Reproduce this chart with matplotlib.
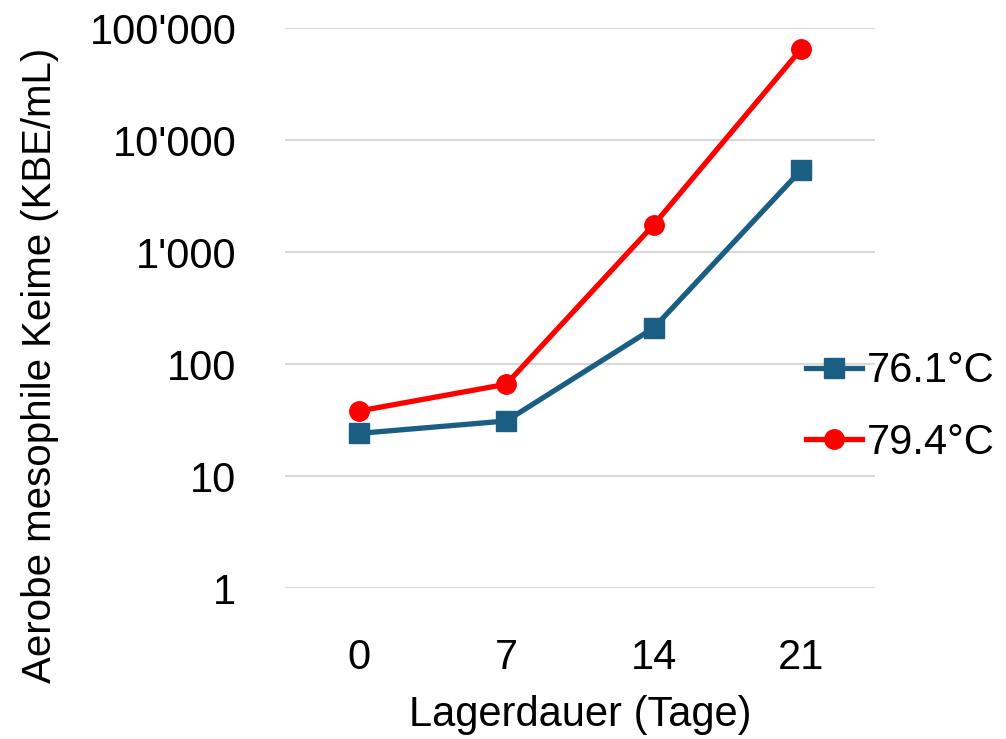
import matplotlib
matplotlib.use("Agg")
import matplotlib.pyplot as plt
from matplotlib.ticker import FuncFormatter, FixedLocator, NullLocator

plt.rcParams['font.family'] = ['Liberation Sans Narrow', 'Liberation Sans', 'DejaVu Sans']

# Daten
tage = ['0', '7', '14', '21']
keime_761 = [24, 31, 210, 5400]
keime_794 = [38, 66, 1750, 65000]
serien = ['76.1°C', '79.4°C']

fig = plt.figure(figsize=(10.06, 7.39), dpi=100)
ax = fig.add_axes([285 / 1006, (739 - 588) / 739, 590 / 1006, 560 / 739])

x = range(len(tage))
ax.plot(x, keime_761, color='#1B5E84', lw=3.8, marker='s', ms=14, label=serien[0])
ax.plot(x, keime_794, color='#FF0000', lw=3.8, marker='o', ms=14, label=serien[1])

ax.set_yscale('log')
ax.set_ylim(1, 1e5)
ax.set_xlim(-0.5, 3.5)
ax.yaxis.set_major_locator(FixedLocator([1, 10, 100, 1000, 10000, 100000]))
ax.yaxis.set_minor_locator(NullLocator())
ax.yaxis.set_major_formatter(FuncFormatter(lambda v, p: f"{int(round(v)):,}".replace(',', "'")))
ax.set_xticks(list(x))
ax.set_xticklabels(tage)

ax.grid(axis='y', color='#D9D9D9', lw=1.5)
ax.set_axisbelow(True)
for s in ax.spines.values():
    s.set_visible(False)
ax.tick_params(axis='both', length=0, labelsize=30, colors='black')
ax.tick_params(axis='y', pad=35)
ax.tick_params(axis='x', pad=36)

ax.set_xlabel('Lagerdauer (Tage)', fontsize=30, labelpad=12)
fig.text(40 / 1006, 1 - 365 / 739, 'Aerobe mesophile Keime (KBE/mL)', fontsize=29,
         rotation=90, ha='center', va='center')

fig.legend(loc='center left', bbox_to_anchor=(806 / 1006, 1 - 407 / 739), frameon=False,
           fontsize=30, handlelength=1.35, handletextpad=0.12, labelspacing=0.75, borderpad=0,
           borderaxespad=0)

fig.savefig('out.png', dpi=100)
